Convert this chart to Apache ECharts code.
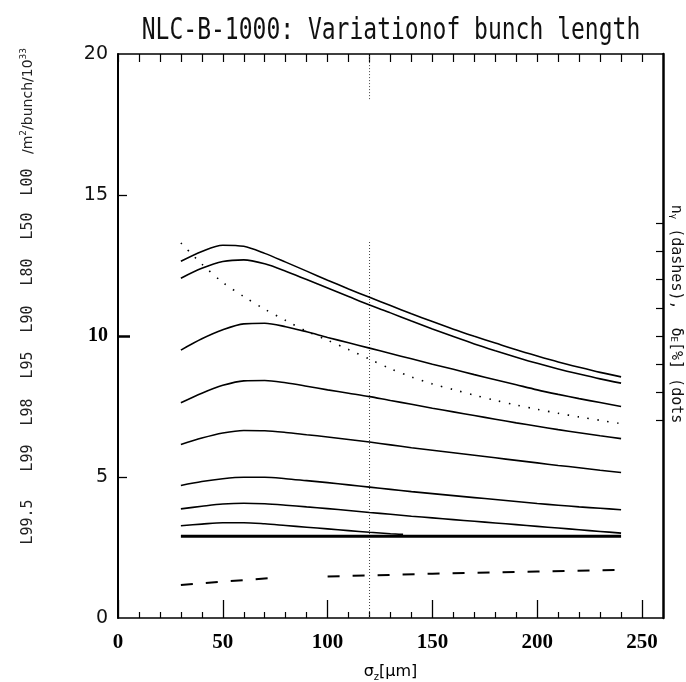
<!DOCTYPE html>
<html><head><meta charset="utf-8">
<script src="https://cdn.jsdelivr.net/npm/echarts@6/dist/echarts.min.js"></script>
<style>html,body{margin:0;padding:0;background:#fff}#c{width:686px;height:682px}</style>
</head><body><div id="c"></div>
<script>
// ---- data ----
const titleText = 'NLC-B-1000: Variationof bunch length';
const xMajorTicks = [0, 50, 100, 150, 200, 250];
const xMinorTicks = [10,20,30,40,60,70,80,90,110,120,130,140,160,170,180,190,210,220,230,240];
const yTicks = [0, 5, 10, 15, 20];
const yTickMarks = [5, 15];
const yBoldTick = [10];
const rightTicks = [7, 8, 9, 10, 11, 12, 13, 14];
const leftLabels = ['L99.5', 'L99', 'L98', 'L95', 'L90', 'L80', 'L50', 'L00'];

const curveL00 = [[30,12.65],[40,13.0],[50,13.22],[60,13.18],[70,12.93],[80,12.62],[90,12.3],[100,11.98],[110,11.67],[120,11.37],[130,11.08],[140,10.79],[150,10.51],[160,10.24],[170,9.99],[180,9.75],[190,9.51],[200,9.29],[210,9.08],[220,8.89],[230,8.71],[240,8.55]];
const curveL50 = [[30,12.05],[40,12.4],[50,12.64],[60,12.7],[70,12.56],[80,12.3],[90,12.0],[100,11.7],[110,11.4],[120,11.1],[130,10.82],[140,10.53],[150,10.25],[160,9.98],[170,9.72],[180,9.48],[190,9.25],[200,9.03],[210,8.83],[220,8.65],[230,8.48],[240,8.33]];
const curveL80 = [[30,9.5],[40,9.9],[50,10.22],[60,10.43],[70,10.45],[80,10.33],[90,10.15],[100,9.95],[110,9.76],[120,9.57],[130,9.38],[140,9.19],[150,9.0],[160,8.82],[170,8.63],[180,8.45],[190,8.27],[200,8.09],[210,7.93],[220,7.78],[230,7.64],[240,7.5]];
const curveL90 = [[30,7.63],[40,7.97],[50,8.25],[60,8.41],[70,8.42],[80,8.34],[90,8.22],[100,8.09],[110,7.97],[120,7.85],[130,7.71],[140,7.58],[150,7.44],[160,7.31],[170,7.18],[180,7.05],[190,6.92],[200,6.8],[210,6.68],[220,6.57],[230,6.46],[240,6.36]];
const curveL95 = [[30,6.15],[40,6.38],[50,6.56],[60,6.65],[70,6.64],[80,6.58],[90,6.5],[100,6.42],[110,6.33],[120,6.24],[130,6.14],[140,6.04],[150,5.95],[160,5.86],[170,5.77],[180,5.68],[190,5.59],[200,5.5],[210,5.41],[220,5.33],[230,5.24],[240,5.16]];
const curveL98 = [[30,4.7],[40,4.84],[50,4.94],[60,4.99],[70,4.99],[80,4.94],[90,4.87],[100,4.8],[110,4.72],[120,4.64],[130,4.56],[140,4.48],[150,4.41],[160,4.34],[170,4.27],[180,4.2],[190,4.13],[200,4.06],[210,4.0],[220,3.94],[230,3.89],[240,3.84]];
const curveL99 = [[30,3.87],[40,3.96],[50,4.04],[60,4.07],[70,4.05],[80,4.0],[90,3.94],[100,3.88],[110,3.81],[120,3.74],[130,3.68],[140,3.61],[150,3.55],[160,3.49],[170,3.43],[180,3.37],[190,3.31],[200,3.25],[210,3.19],[220,3.13],[230,3.07],[240,3.01]];
const curveL995 = [[30,3.27],[40,3.33],[50,3.38],[60,3.38],[70,3.34],[80,3.28],[90,3.22],[100,3.16],[110,3.1],[120,3.04],[130,2.99],[136,2.97]];
const baseLine = [[30,2.9],[240,2.9]];
const nGammaDashes = [[30,1.17],[50,1.29],[72,1.41],[86,'-'],[100,1.47],[150,1.57],[200,1.65],[240,1.71]];
const deltaEDots = [[30,13.3],[40,12.55],[50,11.9],[60,11.4],[70,10.95],[80,10.55],[90,10.17],[100,9.85],[110,9.52],[120,9.18],[130,8.84],[140,8.55],[150,8.3],[160,8.1],[170,7.9],[180,7.72],[190,7.55],[200,7.4],[210,7.26],[220,7.13],[230,7.01],[240,6.89]];
const vLine = [[120,0],[120,13.4],[120,'-'],[120,18.4],[120,20]];

// ---- layout ----
const G = {left:118, right:23, top:54, bottom:64, outerBoundsMode:'none', containLabel:false};
const chart = echarts.init(document.getElementById('c'), null, {renderer:'canvas'});

const solid = [curveL00, curveL50, curveL80, curveL90, curveL95, curveL98, curveL99, curveL995];
const series = solid.map(d => ({
  type:'line', data:d, smooth:0.3, symbol:'none', silent:true,
  lineStyle:{color:'#000', width:1.6}, z:3
}));
series.push({type:'line', data:baseLine, symbol:'none', silent:true, lineStyle:{color:'#000', width:3}, z:3});
series.push({type:'line', data:nGammaDashes, symbol:'none', silent:true, connectNulls:false,
  lineStyle:{color:'#000', width:2, type:[12,13]}, z:3});
series.push({type:'line', data:deltaEDots, smooth:0.3, symbol:'none', silent:true,
  lineStyle:{color:'#000', width:1.6, type:[1.5,8.5]}, z:3});
series.push({type:'line', data:vLine, symbol:'none', silent:true, connectNulls:false,
  lineStyle:{color:'#444', width:1, type:[1,2]}, z:2});

const graphics = [];
graphics.push({type:'text', x:391, y:31, scaleY:1.3, style:{text:titleText, align:'center', verticalAlign:'middle',
  font:'23px "DejaVu Sans Mono"', fill:'#111'}});
const leftY = [522, 458, 412, 365, 319, 272, 226, 182];
leftLabels.forEach((t,i) => {
  graphics.push({type:'text', x:28, y:leftY[i], rotation:Math.PI/2, style:{text:t, align:'center', verticalAlign:'middle',
    font:'15px "DejaVu Sans Mono"', fill:'#222'}});
});
graphics.push({type:'text', x:28, y:101, rotation:Math.PI/2, style:{
  text:'{t|/m}{s|2}{t|/bunch/10}{s|33}', align:'center', verticalAlign:'middle',
  rich:{t:{font:'14px "DejaVu Sans"', fill:'#222'}, s:{font:'9px "DejaVu Sans"', fill:'#222', padding:[0,0,8,0]}}}});
graphics.push({type:'text', x:676, y:314, rotation:-Math.PI/2, style:{
  text:'{t|n}{s|γ}{t| (dashes),  δ}{s|E}{t|[%] (dots}', align:'center', verticalAlign:'middle',
  rich:{t:{font:'15px "DejaVu Sans Mono"', fill:'#111'}, s:{font:'9px "DejaVu Sans Mono"', fill:'#111', padding:[6,0,0,0]}}}});

const noZero = {onZero:false};
const option = {
  animation:false,
  backgroundColor:'#fff',
  grid:G,
  xAxis:[
    {type:'value', min:0, max:260, position:'bottom',
      axisLine:{show:true, onZero:false, lineStyle:{color:'#000', width:1.5}},
      axisTick:{show:true, inside:true, length:18, customValues:xMajorTicks, lineStyle:{color:'#000', width:1.3}},
      minorTick:{show:false},
      axisLabel:{show:true, customValues:xMajorTicks, margin:14, fontFamily:'Liberation Serif', fontWeight:'bold', fontSize:21, color:'#000'},
      splitLine:{show:false},
      name:'{s|σ}{sub|z}{s|[μm]}', nameLocation:'middle', nameGap:44,
      nameTextStyle:{rich:{s:{fontFamily:'DejaVu Sans', fontSize:16, color:'#000'}, sub:{fontFamily:'DejaVu Sans', fontSize:10, color:'#000', padding:[10,0,0,0]}}}
    },
    {type:'value', min:0, max:260, position:'bottom',
      axisLine:{show:false, onZero:false},
      axisTick:{show:true, inside:true, length:6, customValues:xMinorTicks, lineStyle:{color:'#000', width:1.2}},
      minorTick:{show:false},
      axisLabel:{show:false}, splitLine:{show:false}},
    {type:'value', min:0, max:260, position:'top',
      axisLine:{show:true, onZero:false, lineStyle:{color:'#000', width:1.5}},
      axisTick:{show:true, inside:true, length:8, customValues:xMinorTicks.concat(xMajorTicks), lineStyle:{color:'#000', width:1.2}},
      minorTick:{show:false},
      axisLabel:{show:false}, splitLine:{show:false}}
  ],
  yAxis:[
    {type:'value', min:0, max:20, interval:5, position:'left',
      axisLine:{show:true, onZero:false, lineStyle:{color:'#000', width:2}},
      axisTick:{show:true, inside:true, length:9, customValues:yTickMarks, lineStyle:{color:'#000', width:1.3}},
      minorTick:{show:false},
      splitLine:{show:false},
      axisLabel:{margin:10, customValues:yTicks, formatter:v => v===10 ? '{b|10}' : '{a|'+v+'}',
        rich:{a:{fontFamily:'DejaVu Sans', fontSize:19, color:'#111'}, b:{fontFamily:'Liberation Serif', fontWeight:'bold', fontSize:20, color:'#000'}}}
    },
    {type:'value', min:0, max:20, position:'left',
      axisLine:{show:false, onZero:false},
      axisTick:{show:true, inside:true, length:12, customValues:yBoldTick, lineStyle:{color:'#000', width:2.5}},
      minorTick:{show:false},
      axisLabel:{show:false}, splitLine:{show:false}},
    {type:'value', min:0, max:20, position:'right',
      axisLine:{show:true, onZero:false, lineStyle:{color:'#000', width:2.5}},
      axisTick:{show:true, inside:true, length:7, customValues:rightTicks, lineStyle:{color:'#000', width:1.2}},
      minorTick:{show:false},
      axisLabel:{show:false}, splitLine:{show:false}}
  ],
  graphic:graphics,
  series:series
};
chart.setOption(option);
</script>
</body></html>
